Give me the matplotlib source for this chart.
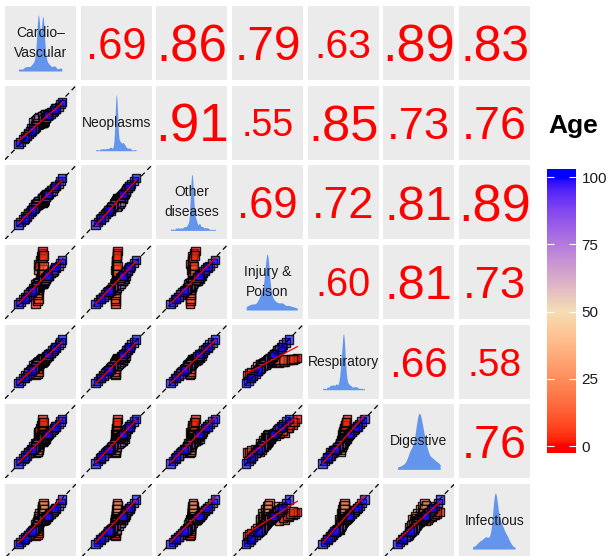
import numpy as np
import matplotlib
matplotlib.use("Agg")
import matplotlib.pyplot as plt
from matplotlib.colors import ListedColormap, Normalize, to_rgb

plt.rcParams['font.family'] = ['Liberation Sans', 'DejaVu Sans']

# ---------------------------------------------------------------- data
cause_labels = ["Cardio–\nVascular", "Neoplasms", "Other\ndiseases",
                "Injury &\nPoison", "Respiratory", "Digestive", "Infectious"]

ages = [0, 5, 10, 15, 20, 25, 30, 35, 40, 45, 50,
        55, 60, 65, 70, 75, 80, 85, 90, 95, 100]

# scaled rates (percent of range): one row per age group, one column per period
cardio = [
    [43, 47, 49, 51, 52, 53], [46, 47, 48, 52, 53, 54], [47, 48, 49, 51, 53, 54],
    [46, 47, 48, 52, 53, 54], [46, 47, 48, 52, 53, 54], [46, 47, 47, 53, 53, 54],
    [46, 47, 48, 53, 54, 55], [47, 47, 48, 52, 53, 54], [47, 47, 48, 53, 54, 54],
    [46, 47, 47, 53, 53, 54], [46, 47, 48, 53, 54, 55], [46, 47, 48, 52, 53, 54],
    [45, 47, 48, 53, 54, 56], [43, 46, 48, 52, 55, 58], [40, 44, 47, 53, 57, 62],
    [37, 42, 46, 54, 59, 65], [33, 39, 45, 56, 62, 69], [29, 36, 44, 57, 64, 72],
    [26, 33, 42, 58, 67, 76], [22, 31, 40, 60, 69, 78], [19, 28, 38, 61, 71, 80],
]
neoplasms = [
    [49, 50, 50, 51, 51, 52], [49, 49, 50, 50, 51, 51], [48, 49, 50, 50, 51, 52],
    [49, 50, 50, 51, 51, 52], [49, 49, 50, 50, 51, 51], [48, 49, 50, 51, 51, 52],
    [49, 50, 50, 50, 51, 51], [49, 49, 50, 51, 51, 52], [48, 49, 50, 50, 51, 52],
    [49, 50, 50, 51, 51, 52], [48, 49, 50, 51, 52, 53], [49, 50, 51, 52, 53, 54],
    [50, 52, 54, 56, 57, 58], [52, 55, 57, 59, 60, 62], [51, 54, 56, 59, 61, 63],
    [42, 46, 49, 55, 60, 64], [36, 42, 47, 55, 61, 66], [32, 38, 45, 56, 62, 69],
    [28, 35, 43, 57, 64, 71], [24, 32, 41, 59, 67, 75], [21, 29, 39, 60, 69, 78],
]
other = [
    [47, 48, 50, 51, 53, 55], [48, 49, 50, 51, 52, 54], [48, 49, 50, 51, 52, 53],
    [48, 49, 50, 50, 51, 53], [49, 49, 50, 51, 51, 52], [48, 49, 50, 51, 52, 52],
    [49, 49, 50, 50, 51, 52], [48, 49, 50, 51, 51, 52], [49, 50, 50, 51, 52, 53],
    [48, 49, 50, 51, 52, 53], [48, 49, 50, 51, 52, 54], [47, 49, 50, 52, 53, 55],
    [46, 49, 51, 53, 55, 57], [45, 48, 51, 55, 58, 61], [44, 48, 51, 56, 60, 64],
    [39, 44, 49, 56, 61, 66], [35, 41, 47, 56, 62, 69], [31, 37, 45, 57, 64, 72],
    [27, 34, 43, 58, 66, 75], [23, 31, 41, 60, 69, 79], [20, 28, 39, 61, 72, 83],
]
injury = [
    [21, 74, 80, 85, 89, 92], [24, 66, 72, 78, 82, 86], [27, 48, 55, 62, 68, 72],
    [32, 40, 44, 50, 56, 60], [36, 40, 43, 47, 50, 53], [39, 42, 44, 47, 49, 51],
    [42, 44, 46, 48, 49, 51], [45, 47, 48, 49, 50, 51], [47, 48, 49, 50, 50, 51],
    [48, 49, 49, 50, 51, 51], [48, 49, 50, 50, 51, 52], [48, 49, 50, 50, 51, 51],
    [48, 49, 50, 50, 51, 52], [47, 48, 49, 51, 52, 54], [42, 45, 48, 51, 54, 58],
    [38, 42, 46, 52, 57, 62], [34, 39, 45, 53, 59, 65], [30, 36, 43, 55, 62, 69],
    [27, 33, 41, 56, 64, 72], [23, 30, 39, 58, 67, 76], [20, 27, 37, 59, 70, 80],
]
respiratory = [
    [32, 50, 52, 53, 54, 55], [34, 48, 50, 52, 53, 54], [36, 47, 49, 50, 52, 53],
    [40, 46, 48, 50, 51, 52], [44, 45, 47, 49, 50, 52], [46, 47, 48, 50, 51, 52],
    [47, 48, 49, 50, 51, 52], [48, 49, 50, 50, 51, 51], [48, 49, 50, 50, 51, 52],
    [48, 49, 50, 51, 51, 52], [48, 49, 50, 50, 51, 52], [47, 49, 50, 51, 51, 53],
    [47, 49, 50, 51, 52, 53], [46, 48, 50, 51, 53, 55], [45, 47, 50, 52, 55, 58],
    [40, 44, 48, 53, 57, 62], [36, 41, 46, 54, 60, 66], [32, 37, 44, 55, 62, 69],
    [28, 34, 42, 57, 65, 73], [24, 31, 40, 58, 67, 76], [21, 28, 38, 60, 70, 80],
]
digestive = [
    [35, 62, 68, 72, 76, 80], [36, 60, 64, 68, 72, 76], [38, 52, 55, 58, 61, 64],
    [40, 48, 51, 54, 57, 60], [38, 44, 47, 52, 55, 58], [36, 41, 45, 55, 58, 60],
    [39, 43, 46, 54, 56, 58], [42, 45, 47, 53, 55, 56], [45, 47, 48, 52, 53, 54],
    [47, 48, 49, 51, 52, 53], [48, 49, 50, 50, 51, 52], [48, 49, 50, 51, 51, 52],
    [48, 49, 50, 50, 51, 52], [47, 48, 49, 51, 52, 54], [43, 46, 49, 53, 56, 60],
    [39, 43, 47, 54, 58, 63], [35, 40, 46, 55, 61, 67], [31, 37, 44, 56, 63, 70],
    [27, 34, 42, 57, 65, 73], [23, 31, 40, 59, 68, 77], [20, 28, 38, 60, 70, 80],
]
infectious = [
    [30, 52, 55, 58, 60, 62], [32, 50, 54, 57, 60, 63], [34, 49, 53, 58, 62, 66],
    [37, 50, 56, 62, 66, 70], [40, 53, 60, 66, 70, 74], [42, 52, 57, 62, 67, 71],
    [44, 50, 54, 58, 62, 66], [46, 49, 51, 54, 57, 60], [47, 49, 50, 52, 54, 56],
    [48, 49, 50, 51, 52, 54], [48, 49, 50, 51, 52, 53], [48, 49, 50, 50, 51, 52],
    [48, 49, 50, 51, 51, 52], [46, 48, 49, 51, 53, 55], [38, 43, 47, 52, 55, 59],
    [35, 40, 45, 52, 56, 61], [31, 37, 43, 52, 58, 64], [28, 34, 41, 53, 60, 67],
    [25, 31, 39, 54, 62, 70], [22, 28, 37, 55, 65, 74], [19, 26, 36, 57, 68, 79],
]

# pairwise correlations, upper triangle, row by row
corr_upper = [
    [0.69, 0.86, 0.79, 0.63, 0.89, 0.83],
    [0.91, 0.55, 0.85, 0.73, 0.76],
    [0.69, 0.72, 0.81, 0.89],
    [0.60, 0.81, 0.73],
    [0.66, 0.58],
    [0.76],
]

age_ticks = [0, 25, 50, 75, 100]

# ---------------------------------------------------------------- colours
_M = np.array([[0.4124564, 0.3575761, 0.1804375],
               [0.2126729, 0.7151522, 0.0721750],
               [0.0193339, 0.1191920, 0.9503041]])
_WHITE = np.array([0.95047, 1.0, 1.08883])


def to_lab(color):
    rgb = np.array(to_rgb(color))
    lin = np.where(rgb <= 0.04045, rgb / 12.92, ((rgb + 0.055) / 1.055) ** 2.4)
    xyz = _M @ lin / _WHITE
    f = np.where(xyz > 0.008856, np.cbrt(xyz), 7.787 * xyz + 16 / 116)
    return np.array([116 * f[1] - 16, 500 * (f[0] - f[1]), 200 * (f[1] - f[2])])


def from_lab(lab):
    L, a, b = lab[:, 0], lab[:, 1], lab[:, 2]
    fy = (L + 16) / 116
    f = np.stack([fy + a / 500, fy, fy - b / 200], axis=1)
    xyz = np.where(f ** 3 > 0.008856, f ** 3, (f - 16 / 116) / 7.787) * _WHITE
    lin = np.clip(xyz @ np.linalg.inv(_M).T, 0, 1)
    rgb = np.where(lin <= 0.0031308, 12.92 * lin, 1.055 * lin ** (1 / 2.4) - 0.055)
    return np.clip(rgb, 0, 1)


low, mid, high = to_lab("red"), to_lab("wheat"), to_lab("blue")
t = np.linspace(0, 1, 256)[:, None]
lab = np.where(t < 0.5, low + (mid - low) * (t / 0.5), mid + (high - mid) * ((t - 0.5) / 0.5))
age_cmap = ListedColormap(from_lab(lab))
age_norm = Normalize(0, 100)

PANEL_BG = "#EBEBEB"
DENS_FILL = "#6495ED"

# ---------------------------------------------------------------- layout
W, H = 608, 556
fig = plt.figure(figsize=(W / 100, H / 100), dpi=100)

series = [np.array(v, dtype=float) / 100 for v in
          (cardio, neoplasms, other, injury, respiratory, digestive, infectious)]
n_periods = len(cardio[0])
age_grid = np.repeat(np.array(ages, dtype=float)[:, None], n_periods, axis=1).ravel()
n = len(series)

face_cols = age_cmap(age_norm(age_grid))
face_cols[:, 3] = 0.6
edge_col = (0, 0, 0, 0.85)

pw, ph = 71, 74
col_step, row_step = 75.67, 79.67
x0, y0 = 5, 6


def panel(i, j):
    left = x0 + j * col_step
    top = y0 + i * row_step
    ax = fig.add_axes([left / W, 1 - (top + ph) / H, pw / W, ph / H])
    ax.set_facecolor(PANEL_BG)
    for s in ax.spines.values():
        s.set_visible(False)
    ax.set_xticks([])
    ax.set_yticks([])
    return ax


def kde(v):
    v = np.asarray(v).ravel()
    k = len(v)
    sd = v.std(ddof=1)
    iqr = np.subtract(*np.percentile(v, [75, 25]))
    bw = 0.9 * min(sd, iqr / 1.34) * k ** -0.2
    grid = np.linspace(v.min(), v.max(), 512)
    d = np.exp(-0.5 * ((grid[:, None] - v[None, :]) / bw) ** 2).sum(1)
    return grid, d / (k * bw * np.sqrt(2 * np.pi))


for i in range(n):
    for j in range(n):
        ax = panel(i, j)
        if i == j:
            g, d = kde(series[i])
            ax.fill_between(g, 0, d, color=DENS_FILL, lw=0)
            peak = d.max()
            ax.set_xlim(0, 1)
            ax.set_ylim(-0.16 * peak, 1.16 * peak)
            ax.text(0.5, 0.5, cause_labels[i], transform=ax.transAxes,
                    ha="center", va="center", multialignment="center",
                    fontsize=10, color="#1A1A1A", linespacing=1.55)
        elif i > j:
            xs = series[j].ravel()
            ys = series[i].ravel()
            ax.scatter(xs, ys, facecolors=face_cols, edgecolors=edge_col,
                       marker="s", s=36, linewidths=1.0, zorder=2)
            ax.axline((0, 0), slope=1, color="black", lw=0.9,
                      linestyle=(0, (4, 3)), zorder=3)
            slope, icpt = np.polyfit(xs, ys, 1)
            xr = np.array([xs.min(), xs.max()])
            ax.plot(xr, icpt + slope * xr, color="red", lw=0.9, zorder=4)
            ax.set_xlim(0, 1)
            ax.set_ylim(0, 1)
        else:
            r = corr_upper[i][j - i - 1]
            fs = 10 + 31 * r
            digit_h = 0.716 * fs * 100 / 72 / ph
            ax.text(0.5, 0.5 - digit_h / 2, f"{r:.2f}".lstrip("0"),
                    transform=ax.transAxes, ha="center", va="baseline",
                    fontsize=fs, color="red")

# ---------------------------------------------------------------- colour bar
cb_left, cb_top, cb_w, cb_h = 547, 169, 29, 284
cax = fig.add_axes([cb_left / W, 1 - (cb_top + cb_h) / H, cb_w / W, cb_h / H])
lo, hi = -2.6, 103.0
cax.imshow(np.linspace(lo, hi, 300)[:, None], cmap=age_cmap, norm=age_norm,
           origin="lower", aspect="auto", extent=[0, 1, lo, hi])
cax.set_xlim(0, 1)
cax.set_ylim(lo, hi)
cax.set_xticks([])
cax.set_yticks(age_ticks)
cax.set_yticklabels([str(a) for a in age_ticks])
cax.yaxis.tick_right()
cax.tick_params(axis="y", which="both", direction="in", length=5, width=0.8,
                color="white", left=True, right=True, labelleft=False,
                labelright=True, labelsize=11, labelcolor="#1A1A1A", pad=4)
for s in cax.spines.values():
    s.set_visible(False)

fig.text(548 / W, 1 - 133 / H, "Age", fontsize=19, fontweight="bold",
         ha="left", va="baseline", color="black")

fig.savefig("out.png", dpi=100)
